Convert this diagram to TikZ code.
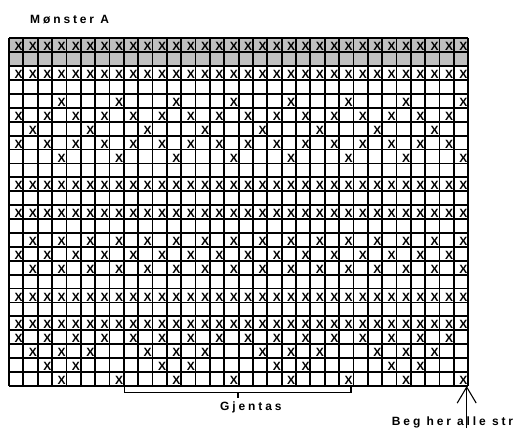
\documentclass[tikz,border=0pt]{standalone}
\usepackage{fontspec}
\setmainfont{Liberation Sans}
\newfontfamily\labfont[LetterSpace=24]{Liberation Sans}
\usetikzlibrary{arrows.meta}
\definecolor{cellgray}{RGB}{192,192,192}
\begin{document}
\begin{tikzpicture}[x=1bp,y=-1bp,
  gridline/.style={line width=1.8bp,black},
  cellx/.style={inner sep=0pt,font=\fontsize{12bp}{12bp}\selectfont\bfseries},
  txtstyle/.style={inner sep=0pt,font=\labfont\bfseries\fontsize{12bp}{13bp}\selectfont},
  thinline/.style={line width=1.1bp,black}]
\useasboundingbox (0,0) rectangle (517,428);
% grey top rows
\fill[cellgray] (9,38.3) rectangle (468.2,66.1);
% grid
\foreach \i in {0,...,32} \draw[gridline] (9+\i*14.35,38.3) -- (9+\i*14.35,385.8);
\foreach \j in {0,...,25} \draw[gridline] (9,38.3+\j*13.9) -- (468.2,38.3+\j*13.9);
% marks
\foreach \rr/\k in {1/1,2/0,3/1,4/0,5/2,6/3,7/4,8/3,9/2,10/0,11/1,12/0,13/1,14/0,15/5,16/3,17/5,18/0,19/1,20/0,21/1,22/3,23/6,24/7,25/2}{
  \foreach \cc in {1,...,32}{
    \pgfmathtruncatemacro\ok{(\k==1) || (\k==2 && mod(\cc,4)==0) || (\k==3 && mod(\cc,2)==1) || (\k==4 && mod(\cc,4)==2) || (\k==5 && mod(\cc,2)==0) || (\k==6 && mod(\cc,2)==0 && mod(\cc,8)!=0) || (\k==7 && (mod(\cc,8)==3 || mod(\cc,8)==5))}
    \ifnum\ok=1
      \node[cellx] (x-\rr-\cc) at ({9+(\cc-0.5)*14.35+2.4},{38.3+(\rr-0.5)*13.9+1.6}) {X};
    \fi
  }
}
% title
\node[txtstyle,anchor=base west] (title) at (30,23.3) {Mønster A};
% repeat bracket
\coordinate (bL) at (124.5,386);
\coordinate (bR) at (351,386);
\coordinate (bM) at (238,392.5);
\draw[thinline] (bL) -- ++(0,6.5) -| (bR);
\node[txtstyle,anchor=base west] (gj) at (220,410.7) {Gjentas};
\coordinate (bMend) at (238,397.5);
\draw[thinline] (bM) -- (bMend);
% start arrow
\coordinate (atip) at (466.7,386);
\coordinate (atail) at (466.7,428);
\node[txtstyle,anchor=base west] (beg) at (391.7,425) {Beg her alle str};
\draw[thinline,-{Straight Barb[length=16bp,width=19bp]}] (atail) -- (atip);
\end{tikzpicture}
\end{document}
